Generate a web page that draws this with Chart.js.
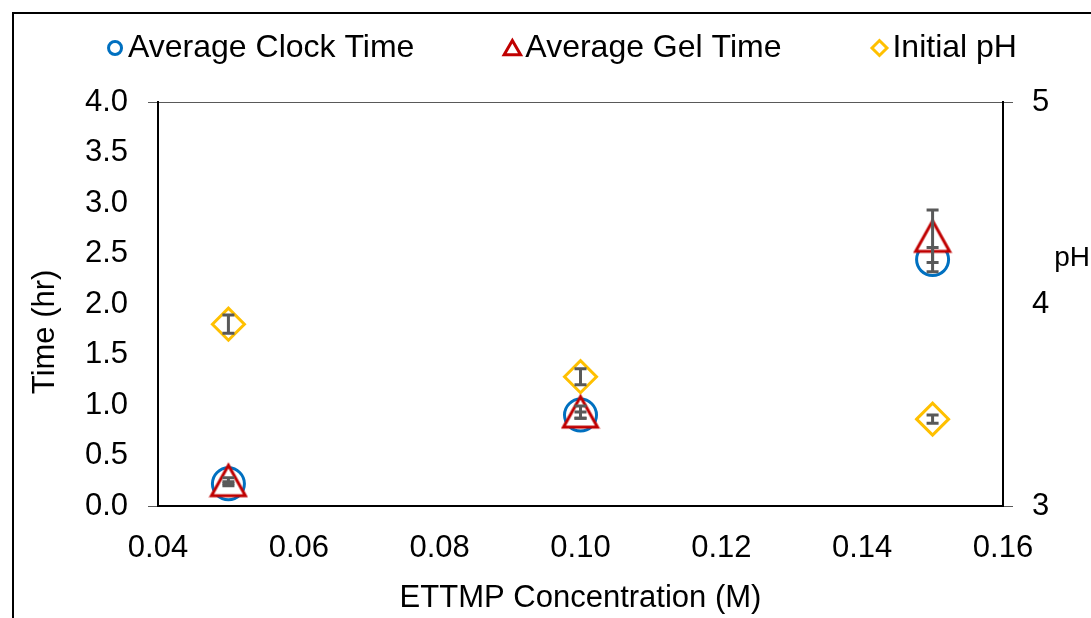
<!DOCTYPE html>
<html>
<head>
<meta charset="utf-8">
<script src="https://cdn.jsdelivr.net/npm/chart.js@4.4.1/dist/chart.umd.min.js"></script>
<style>
  html, body { margin: 0; padding: 0; background: #fff; width: 1091px; height: 618px; overflow: hidden; }
  #frame { position: absolute; left: 12px; top: 12px; width: 1200px; height: 700px; border-left: 2px solid #000; border-top: 2px solid #000; }
  #chartBox { position: absolute; left: 14px; top: 14px; }
</style>
</head>
<body>
<div id="frame"></div>
<div id="chartBox"><canvas id="ettmpChart" width="1132" height="640"></canvas></div>
<script>
// values
const concentrations = [0.05, 0.10, 0.15];
const clockTime = [0.22, 0.90, 2.44];
const clockErr = [0.02, 0.03, 0.12];
const gelTime = [0.25, 0.93, 2.67];
const gelErr = [0.03, 0.06, 0.26];
const initialPH = [3.90, 3.64, 3.43];
const phErr = [0.045, 0.04, 0.02];

const seriesNames = ['Average Clock Time', 'Average Gel Time', 'Initial pH'];
const xTitle = 'ETTMP Concentration (M)';
const yTitle = 'Time (hr)';
const y1Title = 'pH';

const FONT = 'Liberation Sans, Arial, sans-serif';
const BLUE = '#0070C0';
const RED = '#C00000';
const GOLD = '#FFC000';
const ERR = '#595959';

// triangle marker drawn on a small canvas so it sits centred like the original
function makeTriangle() {
    let c = document.createElement('canvas');
    c.width = 40;
    c.height = 40;
    let g = c.getContext('2d');
    g.beginPath();
    g.moveTo(20, 4.5);
    g.lineTo(37, 35);
    g.lineTo(3, 35);
    g.closePath();
    g.fillStyle = '#fff';
    g.fill();
    g.lineWidth = 3;
    g.strokeStyle = RED;
    g.lineJoin = 'miter';
    g.stroke();
    return c;
}

function toPoints(xs, ys) {
    let pts = [];
    for (let i = 0; i < xs.length; i++) {
        pts.push({x: xs[i], y: ys[i]});
    }
    return pts;
}

// error bars, drawn over the markers
const errorBars = {
    id: 'errorBars',
    afterDatasetsDraw(chart) {
        const ctx = chart.ctx;
        ctx.save();
        ctx.strokeStyle = ERR;
        ctx.lineWidth = 3;
        chart.data.datasets.forEach((ds, di) => {
            if (!ds.errors) return;
            const xs = chart.scales.x;
            const ys = chart.scales[ds.yAxisID];
            ds.data.forEach((p, i) => {
                const px = xs.getPixelForValue(p.x);
                const top = ys.getPixelForValue(p.y + ds.errors[i]);
                const bot = ys.getPixelForValue(p.y - ds.errors[i]);
                ctx.beginPath();
                ctx.moveTo(px, top);
                ctx.lineTo(px, bot);
                ctx.moveTo(px - 6, top);
                ctx.lineTo(px + 6, top);
                ctx.moveTo(px - 6, bot);
                ctx.lineTo(px + 6, bot);
                ctx.stroke();
            });
        });
        ctx.restore();
    }
};

// axis titles placed the way Excel left them, plus the legend row
const sideTitles = {
    id: 'sideTitles',
    afterDraw(chart) {
        const ctx = chart.ctx;
        const a = chart.chartArea;
        ctx.save();
        ctx.fillStyle = '#000';
        ctx.font = '31px ' + FONT;
        ctx.textBaseline = 'middle';
        ctx.textAlign = 'center';
        ctx.translate(31, a.top + (a.bottom - a.top) * 0.569);
        ctx.rotate(-Math.PI / 2);
        ctx.fillText(yTitle, 0, 0);
        ctx.restore();

        ctx.save();
        ctx.fillStyle = '#000';
        ctx.font = '28px ' + FONT;
        ctx.textBaseline = 'middle';
        ctx.textAlign = 'right';
        ctx.fillText(y1Title, a.right + 87, a.top + (a.bottom - a.top) * 0.386);
        ctx.restore();

        // legend: marker, small gap, text, wide gap
        const marks = [
            {style: 'circle', radius: 6.5, color: BLUE},
            {style: 'triangle', radius: 9.5, color: RED},
            {style: 'rectRot', radius: 7.5, color: GOLD}
        ];
        ctx.save();
        ctx.font = '32px ' + FONT;
        ctx.textBaseline = 'middle';
        ctx.textAlign = 'left';
        const gap = 90;
        let widths = seriesNames.map((t) => 21 + ctx.measureText(t).width);
        let total = widths.reduce((s, w) => s + w, 0) + gap * (widths.length - 1);
        let x = 548 - total / 2;
        const y = 34;
        for (let i = 0; i < seriesNames.length; i++) {
            ctx.fillStyle = '#fff';
            ctx.strokeStyle = marks[i].color;
            ctx.lineWidth = 3;
            Chart.helpers.drawPoint(ctx, {pointStyle: marks[i].style, radius: marks[i].radius, borderWidth: 3, rotation: 0},
                x + 8, marks[i].style === 'triangle' ? y + 2 : y);
            ctx.fillStyle = '#000';
            ctx.fillText(seriesNames[i], x + 21, y);
            x += widths[i] + gap;
        }
        ctx.restore();
    }
};

function edgeGrid(lo, hi) {
    return (ctx) => (ctx.tick && (ctx.tick.value === lo || ctx.tick.value === hi)) ? ERR : 'rgba(0,0,0,0)';
}

let triangle = makeTriangle();

let config = {
    type: 'scatter',
    data: {
        datasets: [
            {
                label: seriesNames[0],
                data: toPoints(concentrations, clockTime),
                errors: clockErr,
                yAxisID: 'y',
                order: 1,
                pointStyle: 'circle',
                pointRadius: 16,
                pointBorderWidth: 3,
                pointBorderColor: BLUE,
                pointBackgroundColor: '#fff'
            },
            {
                label: seriesNames[1],
                data: toPoints(concentrations, gelTime),
                errors: gelErr,
                yAxisID: 'y',
                order: 0,
                pointStyle: triangle,
                pointRadius: 16,
                pointBorderWidth: 3,
                pointBorderColor: RED,
                pointBackgroundColor: '#fff'
            },
            {
                label: seriesNames[2],
                data: toPoints(concentrations, initialPH),
                errors: phErr,
                yAxisID: 'y1',
                order: 0,
                pointStyle: 'rectRot',
                pointRadius: 16,
                pointBorderWidth: 3,
                pointBorderColor: GOLD,
                pointBackgroundColor: '#fff'
            }
        ]
    },
    options: {
        responsive: false,
        animation: false,
        layout: { padding: { top: 88 } },
        plugins: {
            tooltip: { enabled: false },
            legend: { display: false }
        },
        scales: {
            x: {
                type: 'linear',
                min: 0.04,
                max: 0.16,
                afterFit: (s) => { s.height = 148; },
                ticks: {
                    stepSize: 0.02,
                    padding: 24,
                    maxRotation: 0,
                    color: '#000',
                    font: { family: FONT, size: 31 },
                    callback: (v) => v.toFixed(2)
                },
                grid: { display: false, drawTicks: false },
                border: { color: '#000', width: 2 },
                title: {
                    display: true,
                    text: xTitle,
                    color: '#000',
                    font: { family: FONT, size: 31 },
                    padding: { top: 0, bottom: 37 }
                }
            },
            y: {
                type: 'linear',
                position: 'left',
                min: 0,
                max: 4,
                afterFit: (s) => { s.width = 144; },
                ticks: {
                    stepSize: 0.5,
                    padding: 20,
                    color: '#000',
                    font: { family: FONT, size: 31 },
                    callback: (v) => v.toFixed(1)
                },
                grid: { color: edgeGrid(0, 4), tickLength: 10, lineWidth: 1 },
                border: { color: '#000', width: 2 }
            },
            y1: {
                type: 'linear',
                position: 'right',
                min: 3,
                max: 5,
                afterFit: (s) => { s.width = 143; },
                ticks: {
                    stepSize: 1,
                    padding: 19,
                    color: '#000',
                    font: { family: FONT, size: 31 },
                    callback: (v) => v.toFixed(0)
                },
                grid: { color: edgeGrid(3, 5), tickLength: 10, drawOnChartArea: false, lineWidth: 1 },
                border: { color: '#000', width: 2 }
            }
        }
    },
    plugins: [errorBars, sideTitles]
};

let ettmpChart = new Chart(document.getElementById('ettmpChart'), config);
</script>
</body>
</html>
